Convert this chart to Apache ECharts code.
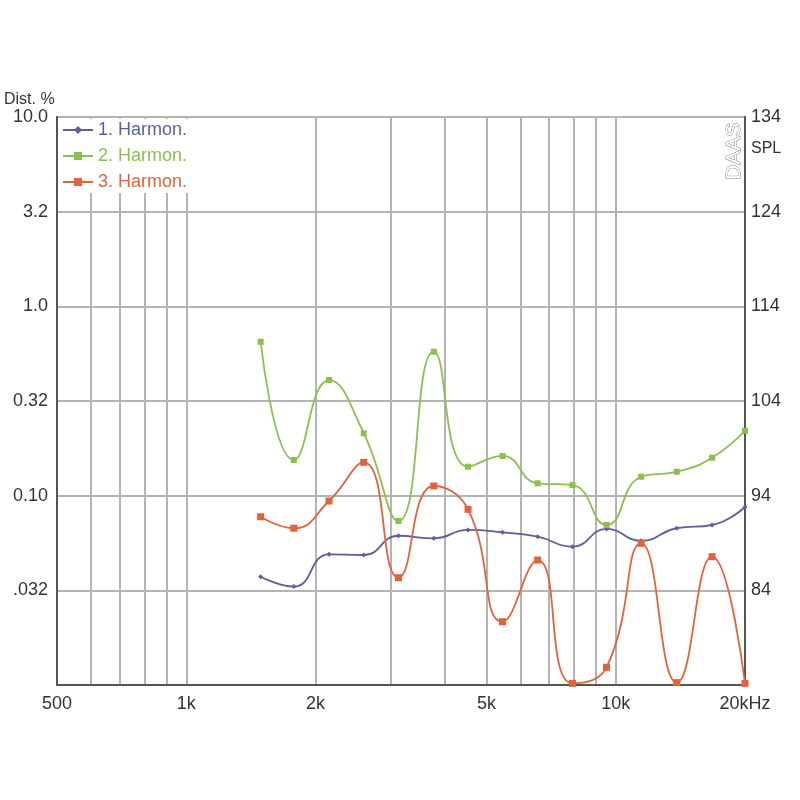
<!DOCTYPE html>
<html>
<head>
<meta charset="utf-8">
<script src="https://cdn.jsdelivr.net/npm/echarts@6/dist/echarts.min.js"></script>
<style>html,body{margin:0;padding:0;background:#fff}#c{width:800px;height:800px}</style>
</head>
<body>
<div id="c"></div>
<script>
const freqs = [1490, 1780, 2150, 2590, 3120, 3770, 4530, 5450, 6580, 7930, 9520, 11460, 13870, 16760, 20000];
const harmon1 = [0.0373, 0.0331, 0.049, 0.0486, 0.0614, 0.0595, 0.0659, 0.064, 0.0607, 0.0538, 0.0667, 0.0578, 0.0673, 0.070, 0.0871];
const harmon2 = [0.650, 0.1543, 0.408, 0.2135, 0.0735, 0.576, 0.1422, 0.1621, 0.1162, 0.1138, 0.0700, 0.1259, 0.1338, 0.1587, 0.2203];
const harmon3 = [0.0774, 0.0673, 0.0937, 0.150, 0.0369, 0.1125, 0.0847, 0.0216, 0.0457, 0.0102, 0.0124, 0.056, 0.0103, 0.0476, 0.0102];
const seriesNames = ['1. Harmon.', '2. Harmon.', '3. Harmon.'];
const xLabelValues = [500, 1000, 2000, 5000, 10000, 20000];
const xLabelTexts = ['500', '1k', '2k', '5k', '10k', '20kHz'];
const xGridValues = [600, 700, 800, 900, 1000, 2000, 3000, 4000, 5000, 6000, 7000, 8000, 9000, 10000];
const yLeftLabels = {'-4': '', '-3': '.032', '-2': '0.10', '-1': '0.32', '0': '1.0', '1': '3.2', '2': '10.0'};
const yRightLabels = [84, 94, 104, 114, 124, 134];

const colors = ['#5c5f9c', '#8cc04e', '#e2623e'];
const font = 'Liberation Sans, Arial, sans-serif';

function pairs(ys) { return freqs.map((f, i) => [f, ys[i]]); }

const chart = echarts.init(document.getElementById('c'), null, {renderer: 'canvas'});
chart.setOption({
  animation: false,
  backgroundColor: '#fff',
  grid: {left: 57, top: 117, right: 55, bottom: 115, show: true, borderColor: '#6a6a6a', borderWidth: 2, backgroundColor: 'transparent'},
  legend: {
    left: 60, top: 119, orient: 'vertical', itemWidth: 30, itemHeight: 10, itemGap: 8,
    backgroundColor: '#fff', padding: [2, 4, 2, 2],
    textStyle: {fontFamily: font, fontSize: 18},
    data: seriesNames.map((n, i) => ({name: n, textStyle: {color: colors[i]}}))
  },
  xAxis: {
    type: 'log', min: 500, max: 20000, logBase: 10,
    axisLine: {show: true, lineStyle: {color: '#555', width: 2}},
    axisTick: {show: false, customValues: xGridValues},
    splitLine: {show: true, lineStyle: {color: '#b4b4b4', width: 2}},
    axisLabel: {
      customValues: xLabelValues,
      formatter: v => { const i = xLabelValues.findIndex(x => Math.abs(x - v) < 1); return i >= 0 ? xLabelTexts[i] : ''; },
      color: '#333', fontFamily: font, fontSize: 18, margin: 10
    }
  },
  yAxis: [{
    type: 'log', logBase: Math.sqrt(10), min: 0.01, max: 10, interval: 1,
    name: 'Dist. %', nameLocation: 'end', nameGap: 9,
    nameTextStyle: {color: '#333', fontFamily: font, fontSize: 16, align: 'left', padding: [0, 0, 0, -53]},
    axisLine: {show: true, lineStyle: {color: '#555', width: 2}},
    axisTick: {show: false},
    splitLine: {show: true, lineStyle: {color: '#b4b4b4', width: 2}},
    axisLabel: {
      formatter: v => { const k = Math.round(Math.log10(v) * 2); return yLeftLabels[String(k)] || ''; },
      color: '#333', fontFamily: font, fontSize: 18, margin: 9
    }
  }, {
    type: 'value', min: 74, max: 134, position: 'right',
    axisLine: {show: true, lineStyle: {color: '#555', width: 2}},
    axisTick: {show: false},
    splitLine: {show: false},
    axisLabel: {customValues: yRightLabels, color: '#333', fontFamily: font, fontSize: 18, margin: 6}
  }],
  graphic: [
    {type: 'text', left: 751, top: 141, style: {text: 'SPL', fill: '#333', font: '16px ' + font}},
    {type: 'text', x: 724, y: 180, rotation: Math.PI / 2, style: {text: 'DAAS', fill: '#fff', stroke: '#888', lineWidth: 1, font: '21px ' + font}}
  ],
  series: [
    {name: seriesNames[0], type: 'line', smooth: 0.5, smoothConstraint: false, data: pairs(harmon1), symbol: 'diamond', symbolSize: 5,
     lineStyle: {color: colors[0], width: 1.8}, itemStyle: {color: colors[0]}, z: 3},
    {name: seriesNames[1], type: 'line', smooth: 0.5, smoothConstraint: false, data: pairs(harmon2), symbol: 'rect', symbolSize: 6,
     lineStyle: {color: colors[1], width: 1.8}, itemStyle: {color: colors[1]}, z: 3},
    {name: seriesNames[2], type: 'line', smooth: 0.5, smoothConstraint: false, data: pairs(harmon3), symbol: 'rect', symbolSize: 7,
     lineStyle: {color: colors[2], width: 1.8}, itemStyle: {color: colors[2]}, z: 3}
  ]
});
</script>
</body>
</html>
